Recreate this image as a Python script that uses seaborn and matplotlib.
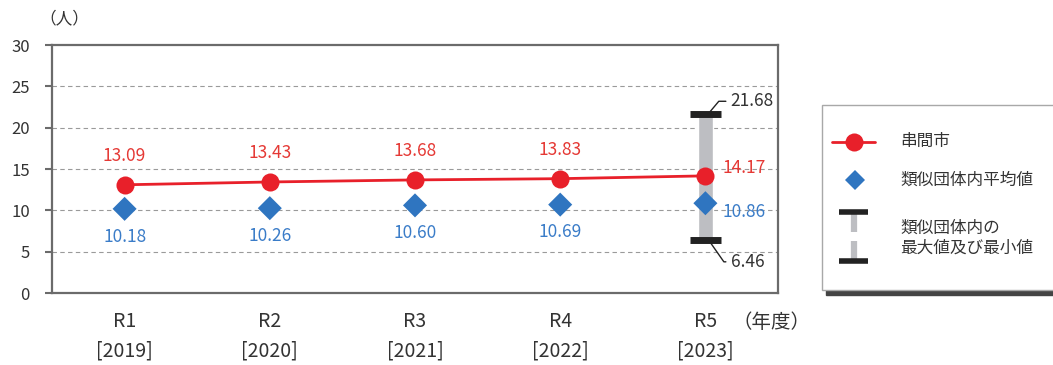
import matplotlib
matplotlib.use("Agg")
import matplotlib.pyplot as plt
import seaborn as sns
import pandas as pd
import numpy as np
from matplotlib.patches import Rectangle

sns.set_style("white")
plt.rcParams['font.family'] = ['Noto Sans CJK JP', 'DejaVu Sans']

# ---- data ----
categories = ["R1\n[2019]", "R2\n[2020]", "R3\n[2021]", "R4\n[2022]", "R5\n[2023]"]
city_values = [13.09, 13.43, 13.68, 13.83, 14.17]
avg_values = [10.18, 10.26, 10.60, 10.69, 10.86]
range_max = 21.68
range_min = 6.46
range_index = 4
series_city = "串間市"
series_avg = "類似団体内平均値"
series_range = "類似団体内の\n最大値及び最小値"

RED = "#E8202A"
BLUE = "#2F75C0"
RED_T = "#E53935"
BLUE_T = "#3A7CC8"
GRAYBAR = "#BDBEC2"
DARK = "#222222"
AXC = "#6B6B6B"
TXT = "#333333"

df = pd.DataFrame({"x": np.arange(len(categories)), "city": city_values, "avg": avg_values})

fig = plt.figure(figsize=(10.53, 3.65), dpi=100)
ax = fig.add_axes([52/1053, 72/365, (778-52)/1053, (293-45)/365])

# range bar
ax.bar([range_index], [range_max - range_min], bottom=[range_min], width=0.1,
       color=GRAYBAR, zorder=2)
ax.hlines([range_min, range_max], range_index - 0.105, range_index + 0.105,
          color=DARK, linewidth=5, zorder=3)

sns.lineplot(data=df, x="x", y="city", ax=ax, color=RED, linewidth=2,
             marker="o", markersize=13, markeredgewidth=0, zorder=5)
sns.scatterplot(data=df, x="x", y="avg", ax=ax, color=BLUE, marker="D",
                s=150, edgecolor="none", linewidth=0, zorder=4)

ax.set_xlim(-0.5, 4.5)
ax.set_ylim(0, 30)
ax.set_yticks(range(0, 31, 5))
ax.set_xticks(df["x"])
ax.set_xticklabels(categories, linespacing=1.55)
ax.set_xlabel("")
ax.set_ylabel("")
for y in range(5, 30, 5):
    ax.axhline(y, color="#9A9A9A", linestyle=(0, (4, 3)), linewidth=0.8, zorder=1)
for s in ax.spines.values():
    s.set_color(AXC)
    s.set_linewidth(1.6)
ax.tick_params(axis="y", length=5, width=1.5, color=AXC, labelsize=12,
               labelcolor=TXT, pad=11, left=True)
ax.tick_params(axis="x", length=0, labelsize=14, labelcolor=TXT, pad=13)

# data labels
for i, (c, a) in enumerate(zip(city_values, avg_values)):
    if i == range_index:
        ax.annotate(f"{c:.2f}", (i, c), xytext=(12, 6), textcoords="offset points",
                    ha="left", va="center", color=RED_T, fontsize=12.5)
        ax.annotate(f"{a:.2f}", (i, a), xytext=(12, -6), textcoords="offset points",
                    ha="left", va="center", color=BLUE_T, fontsize=12.5)
    else:
        ax.annotate(f"{c:.2f}", (i, c), xytext=(0, 21), textcoords="offset points",
                    ha="center", va="center", color=RED_T, fontsize=12.5)
        ax.annotate(f"{a:.2f}", (i, a), xytext=(0, -20), textcoords="offset points",
                    ha="center", va="center", color=BLUE_T, fontsize=12.5)

ax.annotate(f"{range_max:.2f}", (range_index + 0.02, range_max), xytext=(16, 9),
            textcoords="offset points", ha="left", va="center", color=TXT, fontsize=12.5,
            arrowprops=dict(arrowstyle="-", color=DARK, lw=1, shrinkA=1, shrinkB=2,
                            relpos=(0, 0.5),
                            connectionstyle="angle,angleA=0,angleB=50,rad=0"))
ax.annotate(f"{range_min:.2f}", (range_index + 0.02, range_min), xytext=(16, -16),
            textcoords="offset points", ha="left", va="center", color=TXT, fontsize=12.5,
            arrowprops=dict(arrowstyle="-", color=DARK, lw=1, shrinkA=1, shrinkB=2,
                            relpos=(0, 0.5),
                            connectionstyle="angle,angleA=0,angleB=-55,rad=0"))

# axis unit labels
fig.text(64/1053, 1 - 19/365, "（人）", ha="center", va="center", fontsize=12, color=TXT)
fig.text(771/1053, 1 - 322/365, "（年度）", ha="center", va="center", fontsize=14, color=TXT)

# legend panel (overlay in pixel coords)
lg = fig.add_axes([0, 0, 1, 1], facecolor="none")
lg.set_xlim(0, 1053)
lg.set_ylim(365, 0)
lg.axis("off")
lg.add_patch(Rectangle((826, 290), 240, 4.5, color="#444444", zorder=1))
lg.add_patch(Rectangle((822, 105), 240, 185, facecolor="white", edgecolor="#A8A8A8",
                       linewidth=1, zorder=2))
lg.plot([832, 875], [141.5, 141.5], color=RED, lw=2, zorder=3)
lg.plot([854], [141.5], marker="o", color=RED, ms=13, mew=0, zorder=4)
lg.plot([854.5], [180], marker="D", color=BLUE, ms=10.5, mew=0, zorder=4)
lg.plot([839, 868], [212, 212], color=DARK, lw=4, zorder=4, solid_capstyle="butt")
lg.plot([839, 868], [261, 261], color=DARK, lw=4, zorder=4, solid_capstyle="butt")
lg.plot([854, 854], [214, 232], color=GRAYBAR, lw=4.5, zorder=3, solid_capstyle="butt")
lg.plot([854, 854], [241, 259], color=GRAYBAR, lw=4.5, zorder=3, solid_capstyle="butt")
lg.text(900, 141.5, series_city, ha="left", va="center", fontsize=12, color=TXT, zorder=5)
lg.text(900, 180, series_avg, ha="left", va="center", fontsize=12, color=TXT, zorder=5)
lg.text(900, 238, series_range, ha="left", va="center", fontsize=12, color=TXT,
        linespacing=1.25, zorder=5)

fig.savefig("out.png", dpi=100)
